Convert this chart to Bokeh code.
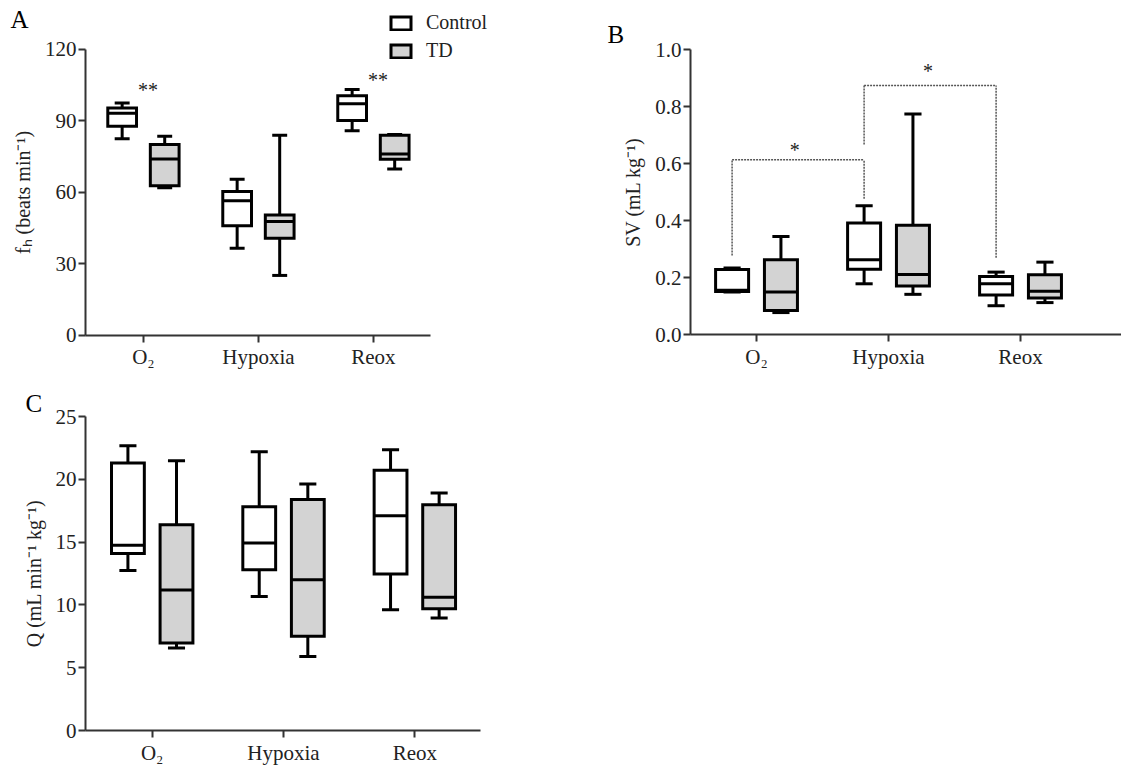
from bokeh.plotting import figure
from bokeh.layouts import column, row
from bokeh.models import (FixedTicker, Range1d, Label, Legend, LegendItem,
                          NumeralTickFormatter, Title)
from bokeh.embed import file_html
from bokeh.resources import INLINE
from bokeh.core.properties import value

# ---------------- data ----------------
categories = ["O₂", "Hypoxia", "Reox"]
groups = ["Control", "TD"]

# Panel A: heart rate fh (beats min-1)
fh_ctrl_min = [82.5, 36.6, 85.9]
fh_ctrl_q1 = [87.8, 46.0, 90.2]
fh_ctrl_med = [93.3, 56.5, 97.2]
fh_ctrl_q3 = [95.5, 60.4, 100.6]
fh_ctrl_max = [97.6, 65.6, 103.2]
fh_td_min = [62.0, 25.2, 69.9]
fh_td_q1 = [62.8, 40.8, 74.0]
fh_td_med = [74.1, 47.8, 76.2]
fh_td_q3 = [80.1, 50.6, 84.0]
fh_td_max = [83.6, 84.0, 84.3]
fh_sig_x = [0.04, 2.04]
fh_sig_y = [104.5, 108.7]
fh_sig_text = ["**", "**"]

# Panel B: stroke volume SV (mL kg-1)
sv_ctrl_min = [0.150, 0.179, 0.102]
sv_ctrl_q1 = [0.152, 0.230, 0.140]
sv_ctrl_med = [0.156, 0.263, 0.179]
sv_ctrl_q3 = [0.229, 0.392, 0.205]
sv_ctrl_max = [0.234, 0.453, 0.220]
sv_td_min = [0.078, 0.142, 0.113]
sv_td_q1 = [0.085, 0.171, 0.129]
sv_td_med = [0.150, 0.212, 0.153]
sv_td_q3 = [0.263, 0.384, 0.211]
sv_td_max = [0.345, 0.775, 0.255]
# significance brackets (Control O2 vs Hypoxia, Hypoxia vs Reox)
br_x_left = [-0.185, 0.815]
br_x_right = [0.815, 1.815]
br_y_left = [0.278, 0.668]
br_y_right = [0.477, 0.270]
br_y_top = [0.614, 0.875]
br_star_x = [0.29, 1.30]
br_star_y = [0.658, 0.936]

# Panel C: cardiac output Q (mL min-1 kg-1)
q_ctrl_min = [12.73, 10.66, 9.62]
q_ctrl_q1 = [14.10, 12.80, 12.46]
q_ctrl_med = [14.74, 14.93, 17.10]
q_ctrl_q3 = [21.30, 17.82, 20.73]
q_ctrl_max = [22.67, 22.19, 22.35]
q_td_min = [6.57, 5.89, 8.96]
q_td_q1 = [6.97, 7.50, 9.70]
q_td_med = [11.19, 12.01, 10.60]
q_td_q3 = [16.38, 18.40, 17.97]
q_td_max = [21.47, 19.62, 18.90]

yticks_a = [0, 30, 60, 90, 120]
yticks_b = [0.0, 0.2, 0.4, 0.6, 0.8, 1.0]
yticks_c = [0, 5, 10, 15, 20, 25]

# ---------------- style ----------------
FONT = "Liberation Serif"
TD_FILL = "#d3d3d3"
OFFSET = 0.185
BOX_W = 0.25
CAP_W = 0.13
LW = 3


def base_fig(width, height, xr, yr, y_ticks, borders, ylabel, x_bounds, y_bounds,
             y_fixed=None, x_fixed=None):
    p = figure(width=width, height=height, output_backend="svg",
               toolbar_location=None, x_range=Range1d(*xr), y_range=Range1d(*yr),
               min_border_left=borders[0], min_border_right=borders[1],
               min_border_top=borders[2], min_border_bottom=borders[3])
    p.outline_line_color = None
    p.grid.visible = False
    p.background_fill_color = "white"
    p.border_fill_color = "white"
    for ax in (p.xaxis[0], p.yaxis[0]):
        ax.axis_line_color = "#333333"
        ax.axis_line_width = 2
        ax.major_tick_line_color = "#333333"
        ax.major_tick_line_width = 2
        ax.major_tick_out = 7
        ax.major_tick_in = 0
        ax.minor_tick_line_color = None
        ax.major_label_text_font = FONT
        ax.major_label_text_font_size = "21px"
        ax.major_label_text_color = "#222222"
    p.xaxis.ticker = FixedTicker(ticks=list(range(len(categories))))
    p.xaxis.major_label_overrides = {i: c for i, c in enumerate(categories)}
    p.xaxis.major_label_standoff = 3
    p.xaxis.bounds = x_bounds
    p.yaxis.ticker = FixedTicker(ticks=y_ticks)
    p.yaxis.bounds = y_bounds
    p.yaxis.major_label_standoff = 2
    p.yaxis.axis_label = ylabel
    p.yaxis.axis_label_text_font = FONT
    p.yaxis.axis_label_text_font_style = "normal"
    p.yaxis.axis_label_text_font_size = "20px"
    p.yaxis.axis_label_text_color = "#222222"
    p.yaxis.axis_label_standoff = 8
    if y_fixed is not None:
        p.yaxis.fixed_location = y_fixed
    if x_fixed is not None:
        p.xaxis.fixed_location = x_fixed
    return p


def draw_boxes(p, mins, q1, med, q3, maxs, off, fill):
    xs = [i + off for i in range(len(categories))]
    # whiskers
    p.segment(x0=xs, y0=q3, x1=xs, y1=maxs, line_color="black", line_width=LW)
    p.segment(x0=xs, y0=q1, x1=xs, y1=mins, line_color="black", line_width=LW)
    p.segment(x0=[x - CAP_W / 2 for x in xs], y0=maxs,
              x1=[x + CAP_W / 2 for x in xs], y1=maxs, line_color="black", line_width=LW)
    p.segment(x0=[x - CAP_W / 2 for x in xs], y0=mins,
              x1=[x + CAP_W / 2 for x in xs], y1=mins, line_color="black", line_width=LW)
    r = p.vbar(x=xs, width=BOX_W, top=q3, bottom=q1, fill_color=fill,
               line_color="black", line_width=LW, line_join="miter")
    p.segment(x0=[x - BOX_W / 2 for x in xs], y0=med,
              x1=[x + BOX_W / 2 for x in xs], y1=med, line_color="black", line_width=LW)
    return r


def letter(p, text, x, y):
    p.add_layout(Label(x=x, y=y, x_units="screen", y_units="screen", text=text,
                       text_font=FONT, text_font_size="25px", text_color="black",
                       text_baseline="alphabetic"))


# ---------------- Panel A ----------------
pA = base_fig(560, 375, (-1.243, 3.627), (-16.79, 140.56), yticks_a, (0, 0, 0, 0),
              "fₕ (beats min⁻¹)", (-0.504, 2.5), (0, 120), y_fixed=-0.504, x_fixed=0)
rc = draw_boxes(pA, fh_ctrl_min, fh_ctrl_q1, fh_ctrl_med, fh_ctrl_q3, fh_ctrl_max, -OFFSET, "white")
rt = draw_boxes(pA, fh_td_min, fh_td_q1, fh_td_med, fh_td_q3, fh_td_max, OFFSET, TD_FILL)
pA.text(x=fh_sig_x, y=fh_sig_y, text=fh_sig_text, text_font=value(FONT),
        text_font_size="20px", text_align="center", text_baseline="alphabetic",
        y_offset=4, text_color="#222222")
leg = Legend(items=[LegendItem(label=groups[0], renderers=[rc]),
                    LegendItem(label=groups[1], renderers=[rt])],
             location=(388, 313), orientation="vertical",
             glyph_width=25, glyph_height=16, label_height=16, spacing=5,
             label_standoff=13, padding=0, margin=0,
             border_line_color=None, background_fill_alpha=0,
             label_text_font=FONT, label_text_font_size="20px",
             label_text_color="#222222")
pA.add_layout(leg)
letter(pA, "A", 10, 356)

# ---------------- Panel B ----------------
pB = base_fig(561, 375, (-1.485, 2.765), (-0.1428, 1.173), yticks_b, (0, 0, 0, 0),
              "SV (mL kg⁻¹)", (-0.5, 2.765), (0, 1.0), y_fixed=-0.5, x_fixed=0)
pB.yaxis.formatter = NumeralTickFormatter(format="0.0")
draw_boxes(pB, sv_ctrl_min, sv_ctrl_q1, sv_ctrl_med, sv_ctrl_q3, sv_ctrl_max, -OFFSET, "white")
draw_boxes(pB, sv_td_min, sv_td_q1, sv_td_med, sv_td_q3, sv_td_max, OFFSET, TD_FILL)
br_style = dict(line_color="#555555", line_width=1.5, line_dash="2 1")
pB.segment(x0=br_x_left, y0=br_y_left, x1=br_x_left, y1=br_y_top, **br_style)
pB.segment(x0=br_x_right, y0=br_y_right, x1=br_x_right, y1=br_y_top, **br_style)
pB.segment(x0=br_x_left, y0=br_y_top, x1=br_x_right, y1=br_y_top, **br_style)
pB.text(x=br_star_x, y=br_star_y, text=["*", "*"], text_font=value(FONT),
        text_font_size="20px", text_align="center", text_baseline="alphabetic",
        y_offset=3, text_color="#222222")
letter(pB, "B", 47, 341)

# ---------------- Panel C ----------------
pC = base_fig(560, 394, (-0.508, 2.5), (0, 25), yticks_c, (85, 80, 41, 39),
              "Q (mL min⁻¹ kg⁻¹)", (-0.508, 2.5), (0, 25))
draw_boxes(pC, q_ctrl_min, q_ctrl_q1, q_ctrl_med, q_ctrl_q3, q_ctrl_max, -OFFSET, "white")
draw_boxes(pC, q_td_min, q_td_q1, q_td_med, q_td_q3, q_td_max, OFFSET, TD_FILL)
pC.add_layout(Title(text="C", align="left", offset=-60, standoff=0,
                    vertical_align="bottom", text_font=FONT, text_font_size="25px",
                    text_font_style="normal", text_color="black"), "above")

layout = column(row(pA, pB), pC)
open("out.html", "w").write(file_html(layout, INLINE))
